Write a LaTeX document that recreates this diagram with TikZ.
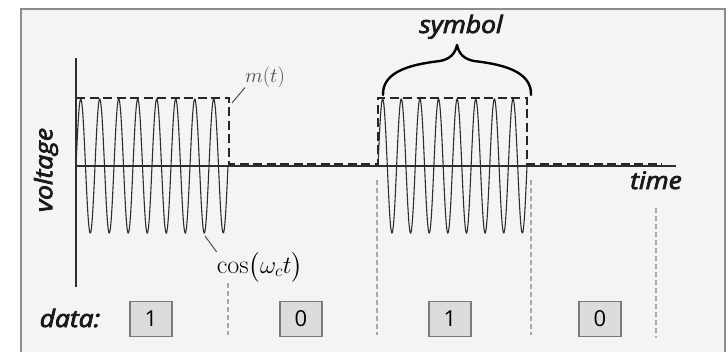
\documentclass[tikz,border=0pt]{standalone}
\usepackage{amsmath}
\usepackage{fontspec}
\newfontfamily\labfont[FakeBold=3]{Open Sans}
\newfontfamily\digfont{Open Sans}
\definecolor{framegray}{HTML}{8C8C8C}
\definecolor{bggray}{HTML}{F4F4F4}
\definecolor{wavecol}{HTML}{2E2E2E}
\definecolor{sepgray}{HTML}{A8A8A8}
\definecolor{boxfill}{HTML}{DCDCDC}
\definecolor{boxline}{HTML}{7A7A7A}
\definecolor{notegray}{HTML}{505050}
\newcommand{\widelab}[1]{\scalebox{1.1}[1]{#1}}
\tikzset{
  axisline/.style={draw=wavecol,line width=1.4pt},
  wave/.style={draw=wavecol,line width=1.1pt,smooth},
  envelope/.style={draw=black!85,line width=1.8pt,dash pattern=on 9pt off 4.5pt},
  sepline/.style={draw=sepgray,line width=1.1pt,dash pattern=on 5pt off 3pt},
  databox/.style={draw=boxline,fill=boxfill,line width=1.1pt,minimum width=42pt,minimum height=35pt,inner sep=0pt,font=\digfont\fontsize{22}{24}\selectfont},
  boldlab/.style={font=\labfont\itshape\fontsize{24}{26}\selectfont,inner sep=0pt,text=black!90},
  leader/.style={draw=notegray,line width=1pt},
}
\begin{document}
\begin{tikzpicture}[x=1pt,y=-1pt]
\useasboundingbox (0,0) rectangle (728,351);
\fill[white] (0,0) rectangle (728,351);
\draw[framegray,line width=1.8pt,fill=bggray] (21,9) rectangle (725,362);
% separators
\draw[sepline] (228,283) -- (228,335);
\draw[sepline] (377,180) -- (377,335);
\draw[sepline] (531,180) -- (531,335);
\draw[sepline] (656,208) -- (656,338);
% waves
\draw[wave] plot[domain=76:228,samples=400] (\x,{166-67*sin(((\x-76)/19)*360)});
\draw[wave] plot[domain=378:527,samples=400] (\x,{166-67*sin(((\x-378)/18.625)*360)});
% axes
\coordinate (yorig) at (76,166);
\coordinate (ytop) at (76,58);
\coordinate (ybot) at (76,287);
\coordinate (xend) at (676,166);
\draw[axisline] (ytop) -- (ybot);
\draw[axisline] (yorig) -- (xend);
% envelope m(t)
\draw[envelope] (76,98) -- (229,98) -- (229,164) -- (378,164) -- (378,98) -- (527,98) -- (527,164) -- (662,164);
% brace
\draw[black,line width=2.4pt,line cap=round,line join=round]
  (383,95) .. controls (382,70) and (415,64) .. (440,61)
  .. controls (450,59) and (455,54) .. (457,45)
  .. controls (459,54) and (464,59) .. (474,61)
  .. controls (499,64) and (532,70) .. (531,95);
% labels
\node[boldlab,anchor=base] (symbol) at (461,33) {\widelab{symbol}};
\node[boldlab,anchor=base] (time) at (656,189) {\widelab{time}};
\node[boldlab,anchor=base] (data) at (70,327) {\widelab{data:}};
\node[boldlab,rotate=90] (voltage) at (46,170) {\widelab{voltage}};
\node[font=\fontsize{21}{23}\selectfont,text=notegray,inner sep=0pt] (mt) at (265,77) {$m(t)$};
\node[font=\fontsize{26}{28}\selectfont,text=black,inner sep=0pt] (cosn) at (260,267) {$\cos\bigl(\omega_c t\bigr)$};
\coordinate (mtpt) at (232,103);
\coordinate (cospt) at (205,236);
\draw[leader] (mtpt) -- (mt.south west);
\draw[leader] (cospt) -- (cosn.north west);
% data boxes
\node[databox] (b1) at (151,319) {1};
\node[databox] (b2) at (301,319) {0};
\node[databox] (b3) at (450,319) {1};
\node[databox] (b4) at (600,319) {0};
\end{tikzpicture}
\end{document}
